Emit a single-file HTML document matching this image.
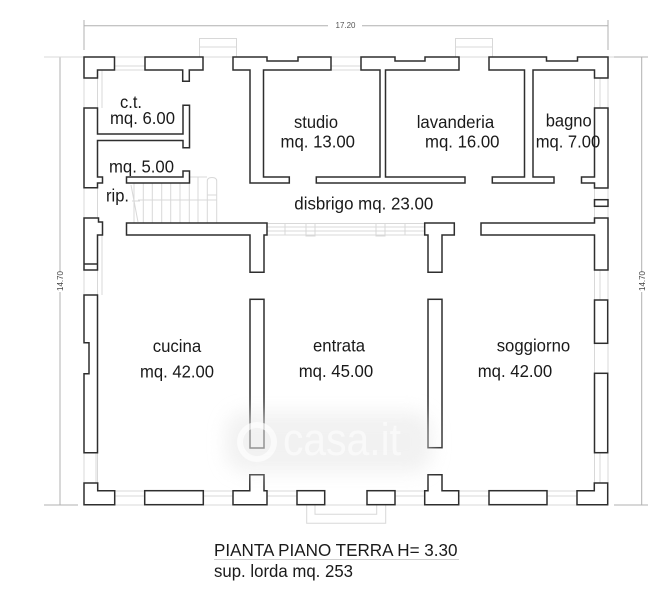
<!DOCTYPE html>
<html><head><meta charset="utf-8"><style>
html,body{margin:0;padding:0;background:#fff}
svg{display:block}
text{font-family:"Liberation Sans",sans-serif;fill:#1a1a1a}
.w polygon,.w rect{fill:#fff;stroke:#2e2e2e;stroke-width:1.5}
.g path{fill:none;stroke:#d8d8d8;stroke-width:1}
.d path{fill:none;stroke:#b0b0b0;stroke-width:1}
.t{font-size:17.5px}
</style></head><body>
<svg width="658" height="600" viewBox="0 0 658 600" xmlns="http://www.w3.org/2000/svg">
<defs><filter id="b" x="-20%" y="-30%" width="140%" height="160%"><feGaussianBlur stdDeviation="9"/></filter></defs>

<!-- dimensions -->
<g class="d">
<path d="M84 20V50M608 20V50M84 25.7H328M362 25.7H608"/>
<path d="M60 57V272M60 292V505M44 57H78M44 505H78"/>
<path d="M641.7 57V272M641.7 292V505M614 57H648M614 505H648"/>
</g>
<text x="335.5" y="28" font-size="8" textLength="20" lengthAdjust="spacingAndGlyphs" style="fill:#555">17.20</text>
<text transform="translate(63,291) rotate(-90)" font-size="8" textLength="20" lengthAdjust="spacingAndGlyphs" style="fill:#444">14.70</text>
<text transform="translate(645,291) rotate(-90)" font-size="8" textLength="20" lengthAdjust="spacingAndGlyphs" style="fill:#444">14.70</text>

<!-- light construction lines -->
<g class="g">
<path d="M199.5 57V38.5H236.5V57M199.5 47H236.5"/>
<path d="M455.5 57V38.5H492.5V57M455.5 47H492.5"/>
<path d="M114 57H145M114 66H145M114 70H145M203 57H233M331 57H361M331 66H361M331 70H361M459 57H489"/>
<path d="M84 78V108M97.5 78V108M102 70V108"/>
<path d="M594.5 78V108M600 78V108M608 78V108M594.5 188V218M608 188V218"/>
<path d="M84 188V218M97.5 188V218"/>
<path d="M84 270V295M97.5 270V295M102 235V295"/>
<path d="M84 453V483M97.5 453V483M96 453V483"/>
<path d="M594.5 270V300M600 270V300M608 270V300M594.5 343V373M608 343V373M594.5 453V483M600 453V483M608 453V483"/>
<path d="M267 227H425M267 231H425M267 223.5H425M267 235H425M285 223V235M405 223V235"/>
<path d="M306 223.5H315V236H306ZM376 223.5H385V236H376Z"/>
<path d="M114.5 491H145M114.5 496H145M114.5 505H145M203 491H233M203 496H233M203 505H233M267 491H297M267 496H297M267 505H297M395 491H425M395 496H425M395 505H425M458.5 491H489M458.5 496H489M458.5 505H489M547 491H577M547 496H577M547 505H577M324.5 505H367"/>
<path d="M306.7 505V523.3H385.7V505M315 505V514.3H376.7V505"/>
<path d="M44 57H84M203 57H233M608 57H614"/>
<!-- stairs -->
<path d="M134 183V223M143.3 183V223M152.3 183V223M161.7 183V223M170.7 183V223M180 183V223M189.3 177V223M198 177V223M207.3 223V181Q207.3 177.5 212 177.5Q216.7 177.5 216.7 181V223M189 177H207"/>
<path d="M138 200H217M207 195H217M131 185L138 222M132 201H140"/>
</g>

<!-- walls -->
<g class="w">
<polygon points="84,57 114.5,57 114.5,70 97.5,70 97.5,78 84,78"/>
<polygon points="145,57 203,57 203,70 189.3,70 189.3,81.3 182.7,81.3 182.7,70 145,70"/>
<polygon points="233,57 267,57 267,61 298,61 298,57 331,57 331,70 263.5,70 263.5,177 289.3,177 289.3,183 250,183 250,70 233,70"/>
<polygon points="361,57 395,57 395,61 425,61 425,57 459,57 459,70 385.5,70 385.5,177 465,177 465,183 316.3,183 316.3,177 380,177 380,70 361,70"/>
<polygon points="489,57 546.5,57 546.5,61 577.5,61 577.5,57 608,57 608,78 594.5,78 594.5,70 533,70 533,177 554,177 554,183 492.3,183 492.3,177 524.5,177 524.5,70 489,70"/>
<polygon points="594.5,108 608,108 608,188 594.5,188 594.5,183 581.5,183 581.5,177 594.5,177"/>
<rect x="594.5" y="199.7" width="13.5" height="6.6"/>
<polygon points="481,223 594.5,223 594.5,218 608,218 608,270 594.5,270 594.5,235 481,235"/>
<polygon points="424.7,223 454.3,223 454.3,235 442,235 442,272.3 428,272.3 428,235 424.7,235"/>
<polygon points="84,108 97.5,108 97.5,134 183,134 183,105.3 189.5,105.3 189.5,147.7 183,147.7 183,140.5 97.5,140.5 97.5,177 102.5,177 102.5,183 97.5,183 97.5,187.7 84,187.7"/>
<polygon points="126.5,177 183,177 183,171 189.5,171 189.5,183 126.5,183"/>
<polygon points="84,218 98.5,218 98.5,222 102.5,222 102.5,235 97.5,235 97.5,270 84,270"/>
<polygon points="84,295 97.5,295 97.5,452.7 84,452.7 84,373.7 89,373.7 89,342.7 84,342.7"/>
<polygon points="126.5,223 267,223 267,235 264,235 264,272.3 250,272.3 250,235 126.5,235"/>
<rect x="250" y="299.3" width="14" height="148.7"/>
<rect x="428" y="299.3" width="14" height="148.4"/>
<polygon points="84,483 97.7,483 97.7,490.7 114.7,490.7 114.7,504.7 84,504.7"/>
<rect x="144.7" y="490.7" width="58.6" height="14"/>
<polygon points="249.8,474.7 264,474.7 264,490.7 267,490.7 267,504.7 233,504.7 233,490.7 249.8,490.7"/>
<rect x="297" y="490.7" width="27.7" height="14"/>
<rect x="367" y="490.7" width="28" height="14"/>
<polygon points="428,474.7 442,474.7 442,490.7 458.7,490.7 458.7,504.7 424.7,504.7 424.7,490.7 428,490.7"/>
<rect x="489" y="490.7" width="58" height="14"/>
<polygon points="594.3,483 607.7,483 607.7,504.7 577,504.7 577,490.7 594.3,490.7"/>
<rect x="594.5" y="300" width="13.2" height="43.3"/>
<rect x="594.5" y="373.3" width="13.2" height="79.4"/>
</g>
<path d="M84 264H97.5" stroke="#2e2e2e" stroke-width="1.5"/>

<!-- watermark -->
<rect x="226" y="412" width="206" height="60" rx="20" fill="#e6e6e6" opacity=".55" filter="url(#b)"/>
<circle cx="257" cy="442" r="17" fill="none" stroke="#fff" stroke-width="6" opacity=".65"/>
<text x="283" y="455" font-size="45" style="fill:#fff" opacity=".6" textLength="118" lengthAdjust="spacingAndGlyphs">casa.it</text>

<!-- labels -->
<text class="t" x="120" y="108" textLength="22" lengthAdjust="spacingAndGlyphs">c.t.</text>
<text class="t" x="110" y="124" textLength="65" lengthAdjust="spacingAndGlyphs">mq. 6.00</text>
<text class="t" x="109" y="172.7" textLength="65" lengthAdjust="spacingAndGlyphs">mq. 5.00</text>
<text class="t" x="106" y="201.7" textLength="23" lengthAdjust="spacingAndGlyphs">rip.</text>
<text class="t" x="294" y="128" textLength="44" lengthAdjust="spacingAndGlyphs">studio</text>
<text class="t" x="280.5" y="147.7" textLength="74.5" lengthAdjust="spacingAndGlyphs">mq. 13.00</text>
<text class="t" x="416.7" y="128" textLength="77.5" lengthAdjust="spacingAndGlyphs">lavanderia</text>
<text class="t" x="425" y="147.7" textLength="74.5" lengthAdjust="spacingAndGlyphs">mq. 16.00</text>
<text class="t" x="545.7" y="126.7" textLength="46" lengthAdjust="spacingAndGlyphs">bagno</text>
<text class="t" x="535.7" y="147.7" textLength="64.5" lengthAdjust="spacingAndGlyphs">mq. 7.00</text>
<text class="t" x="294.3" y="209.5" textLength="139" lengthAdjust="spacingAndGlyphs">disbrigo mq. 23.00</text>
<text class="t" x="152.7" y="352" textLength="48.5" lengthAdjust="spacingAndGlyphs">cucina</text>
<text class="t" x="140" y="377.5" textLength="74" lengthAdjust="spacingAndGlyphs">mq. 42.00</text>
<text class="t" x="313" y="351.7" textLength="52" lengthAdjust="spacingAndGlyphs">entrata</text>
<text class="t" x="298.7" y="377.2" textLength="74.5" lengthAdjust="spacingAndGlyphs">mq. 45.00</text>
<text class="t" x="496.7" y="351.7" textLength="73.5" lengthAdjust="spacingAndGlyphs">soggiorno</text>
<text class="t" x="477.7" y="377.2" textLength="74.5" lengthAdjust="spacingAndGlyphs">mq. 42.00</text>
<text class="t" x="214" y="556" textLength="243.5" lengthAdjust="spacingAndGlyphs">PIANTA PIANO TERRA H= 3.30</text>
<path d="M214 559.5H459" stroke="#d0d0d0" stroke-width="1"/>
<text class="t" x="214" y="577" textLength="139" lengthAdjust="spacingAndGlyphs">sup. lorda mq. 253</text>
</svg>
</body></html>
